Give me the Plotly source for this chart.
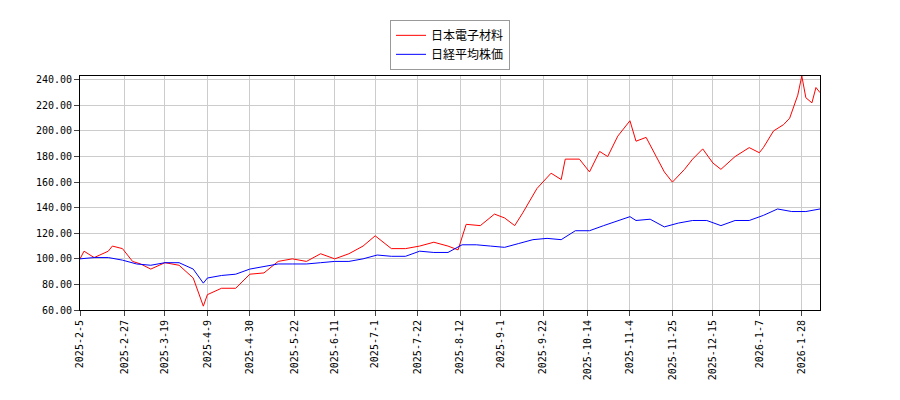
import plotly.graph_objects as go

blue_dates = ["2025-02-05","2025-02-12","2025-02-19","2025-02-26","2025-03-05","2025-03-12","2025-03-19","2025-03-26","2025-04-02","2025-04-07","2025-04-09","2025-04-16","2025-04-23","2025-04-30","2025-05-07","2025-05-14","2025-05-21","2025-05-28","2025-06-04","2025-06-11","2025-06-18","2025-06-25","2025-07-02","2025-07-09","2025-07-16","2025-07-23","2025-07-30","2025-08-06","2025-08-13","2025-08-20","2025-08-27","2025-09-03","2025-09-10","2025-09-17","2025-09-24","2025-10-01","2025-10-08","2025-10-15","2025-10-22","2025-10-29","2025-11-04","2025-11-07","2025-11-14","2025-11-21","2025-11-28","2025-12-05","2025-12-12","2025-12-19","2025-12-26","2026-01-02","2026-01-09","2026-01-16","2026-01-23","2026-01-30","2026-02-06"]
blue_vals = [100,101,101,99,96,95,97,97,92,81,85,87,88,92,94,96,96,96,97,98,98,100,103,102,102,106,105,105,111,111,110,109,112,115,116,115,122,122,126,130,133,130,131,125,128,130,130,126,130,130,134,139,137,137,139]

red_dates = ["2025-02-05","2025-02-07","2025-02-12","2025-02-19","2025-02-21","2025-02-26","2025-03-03","2025-03-07","2025-03-12","2025-03-19","2025-03-26","2025-04-02","2025-04-07","2025-04-09","2025-04-16","2025-04-23","2025-04-30","2025-05-07","2025-05-14","2025-05-21","2025-05-28","2025-06-04","2025-06-11","2025-06-18","2025-06-25","2025-07-01","2025-07-09","2025-07-16","2025-07-23","2025-07-30","2025-08-06","2025-08-11","2025-08-15","2025-08-22","2025-08-29","2025-09-03","2025-09-08","2025-09-12","2025-09-19","2025-09-26","2025-10-01","2025-10-03","2025-10-10","2025-10-15","2025-10-20","2025-10-24","2025-10-29","2025-11-04","2025-11-07","2025-11-12","2025-11-17","2025-11-21","2025-11-25","2025-12-01","2025-12-05","2025-12-10","2025-12-15","2025-12-19","2025-12-26","2026-01-02","2026-01-07","2026-01-09","2026-01-14","2026-01-19","2026-01-22","2026-01-26","2026-01-28","2026-01-30","2026-02-02","2026-02-04","2026-02-06"]
red_vals = [100,106,101,106,110,108,98,96,92,97,95,85,63,72,77,77,88,89,98,100,98,104,100,104,110,118,108,108,110,113,110,107,127,126,135,132,126,136,155,167,162,178,178,168,184,180,196,208,192,195,180,168,160,170,178,186,175,170,180,187,183,187,200,205,210,228,243,226,222,234,230]

tick_vals = ["2025-02-05","2025-02-27","2025-03-19","2025-04-09","2025-04-30","2025-05-22","2025-06-11","2025-07-01","2025-07-22","2025-08-12","2025-09-01","2025-09-22","2025-10-14","2025-11-04","2025-11-25","2025-12-15","2026-01-07","2026-01-28"]
tick_text = ["2025-2-5","2025-2-27","2025-3-19","2025-4-9","2025-4-30","2025-5-22","2025-6-11","2025-7-1","2025-7-22","2025-8-12","2025-9-1","2025-9-22","2025-10-14","2025-11-4","2025-11-25","2025-12-15","2026-1-7","2026-1-28"]

fig = go.Figure()
fig.add_trace(go.Scatter(x=red_dates, y=red_vals, mode="lines", name="日本電子材料", line=dict(color="#ff0000", width=1)))
fig.add_trace(go.Scatter(x=blue_dates, y=blue_vals, mode="lines", name="日経平均株価", line=dict(color="#0000ff", width=1)))
fig.update_layout(
    width=900, height=400, margin=dict(l=72, r=88, t=62, b=98),
    plot_bgcolor="white", paper_bgcolor="white",
    font=dict(family="Noto Sans CJK JP", size=11, color="#000"),
    legend=dict(x=0.5, xanchor="center", y=1.24, yanchor="top", bordercolor="#999", borderwidth=1, font=dict(size=12)),
)
fig.update_xaxes(range=["2025-02-05","2026-02-06"], tickvals=tick_vals, ticktext=tick_text, tickangle=-90,
                 showgrid=True, gridcolor="#cccccc", showline=True, linecolor="#000", mirror=True, ticks="outside", tickfont=dict(size=10, family="DejaVu Sans Mono"))
fig.update_yaxes(range=[60, 243], dtick=20, tickformat=".2f", showgrid=True, gridcolor="#cccccc",
                 showline=True, linecolor="#000", mirror=True, ticks="outside", tickfont=dict(size=10, family="DejaVu Sans Mono"))
fig.write_html("out.html")
